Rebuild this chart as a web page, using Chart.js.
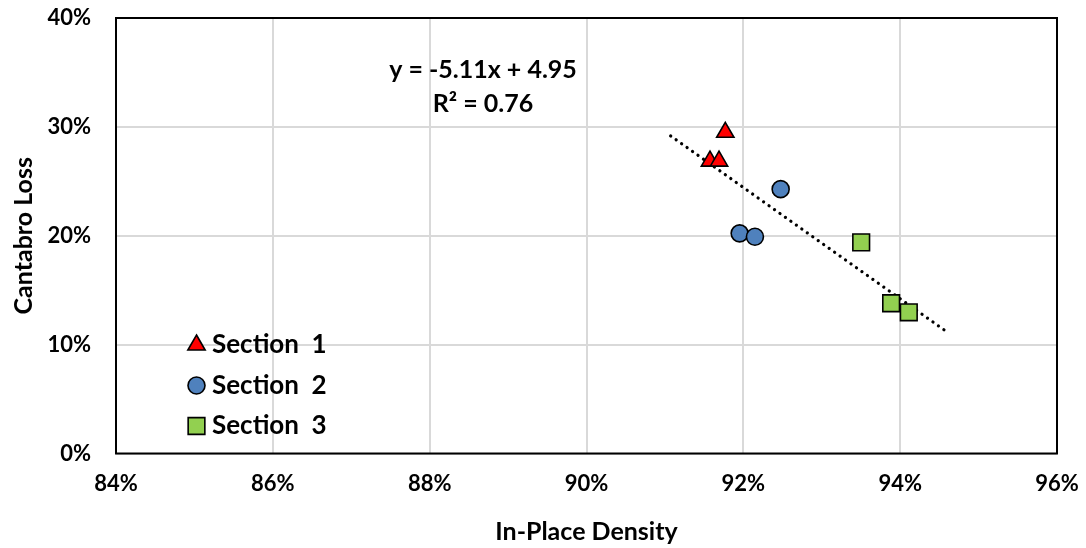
<!DOCTYPE html>
<html>
<head>
<meta charset="utf-8">
<script src="https://cdn.jsdelivr.net/npm/chart.js@4/dist/chart.umd.min.js"></script>
<style>
  html, body { margin: 0; padding: 0; background: #fff; }
  #wrap { width: 1086px; height: 548px; }
</style>
</head>
<body>
<div id="wrap"><canvas id="myChart" width="1086" height="548"></canvas></div>
<script>
// values (fractions, shown as %)
const sec1X = [0.9177, 0.91575, 0.9169];
const sec1Y = [0.295, 0.2685, 0.2685];
const sec2X = [0.92476, 0.91953, 0.92148];
const sec2Y = [0.2428, 0.2022, 0.1991];
const sec3X = [0.93503, 0.93885, 0.9411];
const sec3Y = [0.1939, 0.138, 0.1297];
const trendX = [0.91073, 0.94578];
const trendY = [0.2917, 0.1126];
const seriesNames = ["Section 1", "Section 2", "Section 3"];
const xTicks = [0.84, 0.86, 0.88, 0.90, 0.92, 0.94, 0.96];
const yTicks = [0, 0.1, 0.2, 0.3, 0.4];
const eqLines = ["y = -5.11x + 4.95", "R² = 0.76"];
const xTitle = "In-Place Density";
const yTitle = "Cantabro Loss";

const FONT = "Lato, 'Open Sans', sans-serif";

const toPoints = (xs, ys) => xs.map((x, i) => ({ x, y: ys[i] }));
const pct = v => Math.round(v * 100) + "%";

// plot border, legend inside the plot (bottom left) and trendline equation
const extras = {
    id: "extras",
    beforeDatasetsDraw(chart) {
        const { ctx, chartArea: a } = chart;
        ctx.save();
        ctx.strokeStyle = "#000";
        ctx.lineWidth = 2;
        ctx.strokeRect(a.left, a.top, a.right - a.left, a.bottom - a.top);
        ctx.restore();
    },
    afterDatasetsDraw(chart) {
        const { ctx, chartArea: a } = chart;
        ctx.save();
        // equation
        ctx.fillStyle = "#000";
        ctx.font = "bold 25px " + FONT;
        ctx.textAlign = "center";
        ctx.textBaseline = "middle";
        ctx.fillText(eqLines[0], a.left + 367, a.top + 52);
        ctx.fillText(eqLines[1], a.left + 367, a.top + 86);

        // legend
        seriesNames.forEach((name, i) => {
            const ds = chart.data.datasets[i];
            const x = a.left + 80.5, y = a.top + 327 + i * 40.5;
            ctx.fillStyle = ds.backgroundColor;
            ctx.strokeStyle = ds.borderColor;
            ctx.lineWidth = ds.borderWidth;
            Chart.helpers.drawPoint(ctx, {
                pointStyle: ds.pointStyle,
                radius: ds.pointRadius,
                borderWidth: ds.borderWidth,
                rotation: 0
            }, x, y);
            ctx.fillStyle = "#000";
            ctx.font = "bold 26px " + FONT;
            ctx.textAlign = "left";
            ctx.textBaseline = "middle";
            ctx.fillText(name.replace(" ", "  "), a.left + 96, y);
        });
        ctx.restore();
    }
};

const ctx = document.getElementById("myChart").getContext("2d");

new Chart(ctx, {
    type: "scatter",
    data: {
        datasets: [{
            label: seriesNames[0],
            data: toPoints(sec1X, sec1Y),
            pointStyle: "triangle",
            pointRadius: 10,
            backgroundColor: "#FF0000",
            borderColor: "#000",
            borderWidth: 1.6
        }, {
            label: seriesNames[1],
            data: toPoints(sec2X, sec2Y),
            pointStyle: "circle",
            pointRadius: 8.5,
            backgroundColor: "#4F81BD",
            borderColor: "#000",
            borderWidth: 1.6
        }, {
            label: seriesNames[2],
            data: toPoints(sec3X, sec3Y),
            pointStyle: "rect",
            pointRadius: 11.8,
            backgroundColor: "#92D050",
            borderColor: "#000",
            borderWidth: 1.6
        }, {
            label: "trend",
            type: "line",
            data: toPoints(trendX, trendY),
            showLine: true,
            pointRadius: 0,
            borderColor: "#000",
            borderWidth: 3.2,
            borderCapStyle: "round",
            borderDash: [0.1, 6.6],
            fill: false
        }]
    },
    options: {
        responsive: false,
        animation: false,
        layout: { padding: { top: 18, right: 29, left: 0, bottom: 0 } },
        plugins: {
            legend: { display: false },
            tooltip: { enabled: false }
        },
        scales: {
            x: {
                type: "linear",
                min: 0.84,
                max: 0.96,
                afterBuildTicks: s => { s.ticks = xTicks.map(v => ({ value: v })); },
                afterFit: s => { s.height = 94.5; },
                ticks: {
                    callback: v => pct(v),
                    color: "#000",
                    font: { family: FONT, size: 22, weight: "bold", lineHeight: 1 },
                    padding: 0,
                    maxRotation: 0
                },
                // invisible tick marks push the labels down without widening the side padding
                grid: { color: "#d9d9d9", lineWidth: 2, drawTicks: true, tickLength: 19, tickColor: "rgba(0,0,0,0)" },
                border: { display: false },
                title: {
                    display: true,
                    text: xTitle,
                    color: "#000",
                    font: { family: FONT, size: 25, weight: "bold", lineHeight: 1.2 },
                    padding: { top: 0, bottom: 1 }
                }
            },
            y: {
                type: "linear",
                min: 0,
                max: 0.4,
                afterBuildTicks: s => { s.ticks = yTicks.map(v => ({ value: v })); },
                afterFit: s => { s.width = 116; },
                ticks: {
                    callback: v => pct(v),
                    color: "#000",
                    font: { family: FONT, size: 22, weight: "bold", lineHeight: 1 },
                    padding: 0
                },
                grid: { color: "#d9d9d9", lineWidth: 2, drawTicks: true, tickLength: 25, tickColor: "rgba(0,0,0,0)" },
                border: { display: false },
                title: {
                    display: true,
                    text: yTitle,
                    color: "#000",
                    font: { family: FONT, size: 25, weight: "bold", lineHeight: 1.2 },
                    padding: { top: 9, bottom: 0 }
                }
            }
        }
    },
    plugins: [extras]
});
</script>
</body>
</html>
